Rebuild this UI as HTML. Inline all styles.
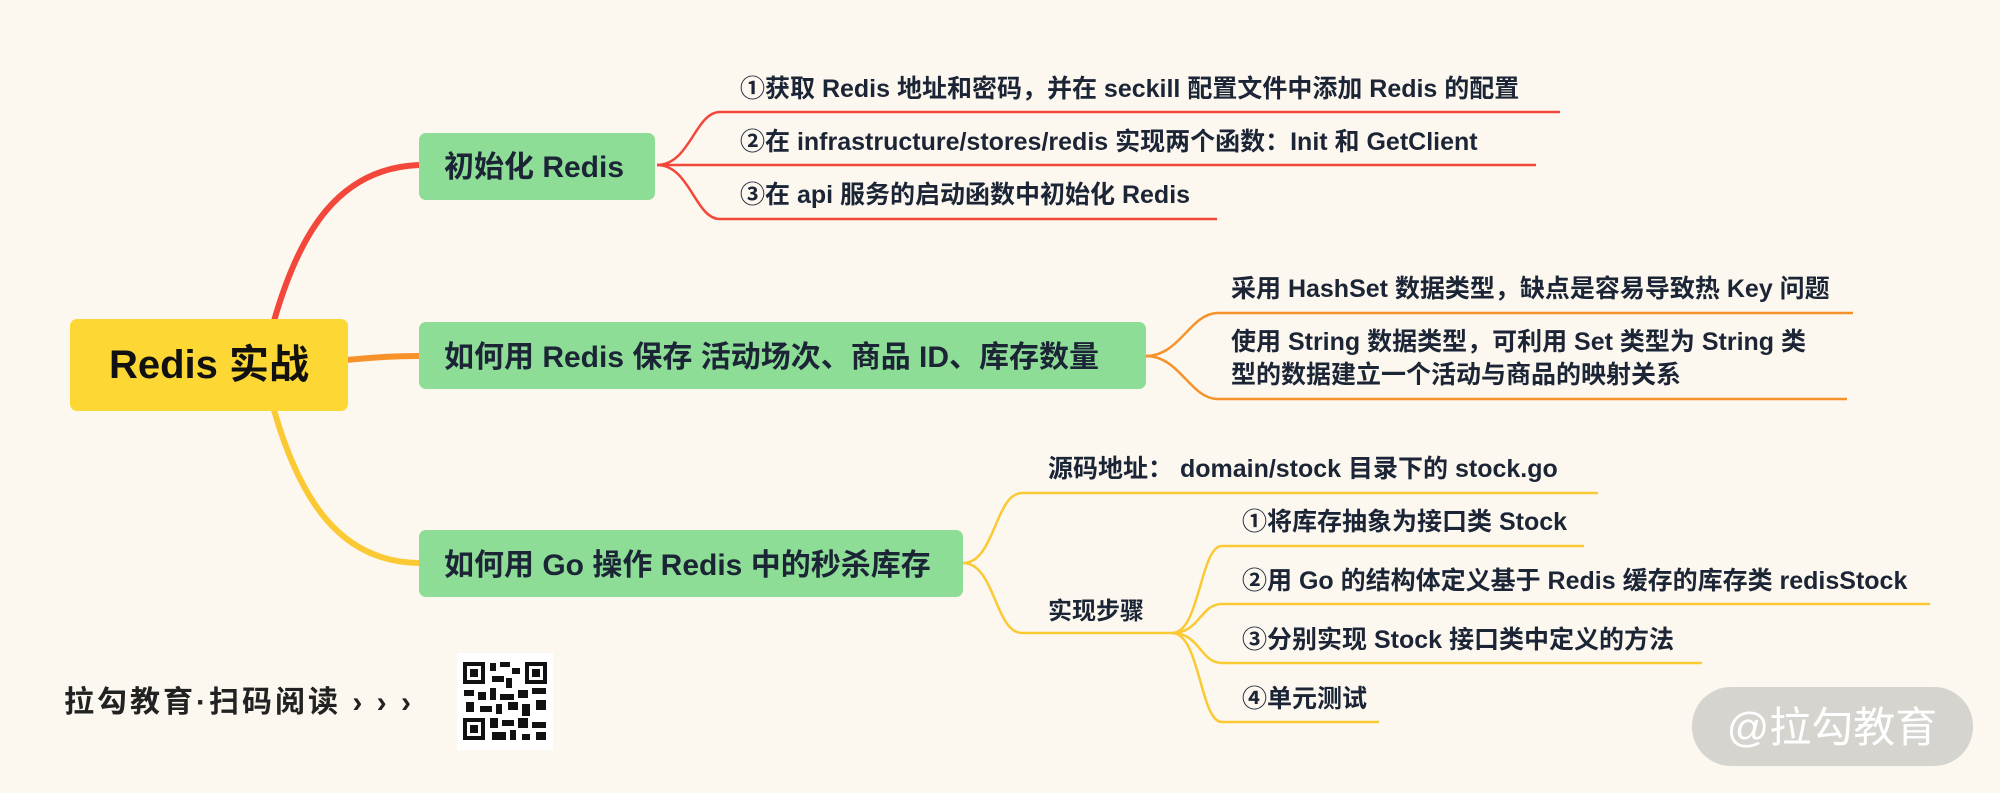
<!DOCTYPE html>
<html><head><meta charset="utf-8"><style>
html,body{margin:0;padding:0;background:#fcf8f0;}
svg{display:block}
text{font-family:"Liberation Sans","Noto Sans CJK SC",sans-serif;font-weight:bold;fill:#1c2536;}
</style></head><body>
<svg width="2000" height="793" viewBox="0 0 2000 793" xmlns="http://www.w3.org/2000/svg">
<rect width="2000" height="793" fill="#fcf8f0"/>
<path d="M274 321 C300 230 340 168 419 165" stroke="#f2473a" stroke-width="6" fill="none"/>
<path d="M346 360 C380 357 395 356 419 356" stroke="#f7922a" stroke-width="6" fill="none"/>
<path d="M274 410 C300 500 340 562 419 563" stroke="#fbc934" stroke-width="6" fill="none"/>
<rect x="70" y="319" width="278" height="92" rx="7" fill="#fdd835"/>
<text x="209" y="378" font-size="40" text-anchor="middle" style="fill:#111">Redis 实战</text>
<rect x="419" y="133" width="236" height="67" rx="7" fill="#8ddd97"/>
<text x="444" y="177" font-size="30">初始化 Redis</text>
<rect x="419" y="322" width="727" height="67" rx="7" fill="#8ddd97"/>
<text x="444" y="367" font-size="30">如何用 Redis 保存 活动场次、商品 ID、库存数量</text>
<rect x="419" y="530" width="544" height="67" rx="7" fill="#8ddd97"/>
<text x="444" y="575" font-size="30">如何用 Go 操作 Redis 中的秒杀库存</text>

<g stroke="#f2473a" stroke-width="2.5" fill="none">
<path d="M657 165 C690 165 695 112 720 112 L1560 112"/>
<path d="M657 165 L1536 165"/>
<path d="M657 165 C690 165 695 219 720 219 L1217 219"/>
</g>
<text x="740" y="97" font-size="25">①获取 Redis 地址和密码，并在 seckill 配置文件中添加 Redis 的配置</text>
<text x="740" y="150" font-size="25">②在 infrastructure/stores/redis 实现两个函数：Init 和 GetClient</text>
<text x="740" y="203" font-size="25">③在 api 服务的启动函数中初始化 Redis</text>

<g stroke="#f7922a" stroke-width="2.5" fill="none">
<path d="M1146 356 C1180 356 1190 313 1218 313 L1853 313"/>
<path d="M1146 356 C1180 356 1190 399 1218 399 L1847 399"/>
</g>
<text x="1231" y="297" font-size="25">采用 HashSet 数据类型，缺点是容易导致热 Key 问题</text>
<text x="1231" y="350" font-size="25">使用  String 数据类型，可利用 Set 类型为 String 类</text>
<text x="1231" y="383" font-size="25">型的数据建立一个活动与商品的映射关系</text>

<g stroke="#fbc934" stroke-width="2.5" fill="none">
<path d="M963 563 C995 563 995 493 1022 493 L1598 493"/>
<path d="M963 563 C995 563 995 633 1022 633 L1172 633"/>
<path d="M1172 633 C1200 633 1200 546 1222 546 L1584 546"/>
<path d="M1172 633 C1200 633 1200 604 1222 604 L1930 604"/>
<path d="M1172 633 C1200 633 1200 663 1222 663 L1702 663"/>
<path d="M1172 633 C1200 633 1200 722 1222 722 L1379 722"/>
</g>
<text x="1048" y="477" font-size="25">源码地址：  domain/stock 目录下的 stock.go</text>
<text x="1048" y="619" font-size="24">实现步骤</text>
<text x="1242" y="530" font-size="25">①将库存抽象为接口类 Stock</text>
<text x="1242" y="589" font-size="25">②用 Go 的结构体定义基于 Redis 缓存的库存类 redisStock</text>
<text x="1242" y="648" font-size="25">③分别实现 Stock 接口类中定义的方法</text>
<text x="1242" y="707" font-size="25">④单元测试</text>

<text x="64" y="712" font-size="30" style="fill:#222;letter-spacing:3px">拉勾教育·扫码阅读 › › ›</text>
<rect x="457" y="653" width="96" height="97" fill="#fff"/>
<g fill="#111">
<rect x="463" y="662" width="22" height="22"/><rect x="467" y="666" width="14" height="14" fill="#fff"/><rect x="470" y="669" width="8" height="8"/>
<rect x="525" y="662" width="22" height="22"/><rect x="529" y="666" width="14" height="14" fill="#fff"/><rect x="532" y="669" width="8" height="8"/>
<rect x="463" y="718" width="22" height="22"/><rect x="467" y="722" width="14" height="14" fill="#fff"/><rect x="470" y="725" width="8" height="8"/>
<rect x="490" y="663" width="6" height="8"/><rect x="500" y="662" width="10" height="5"/><rect x="512" y="668" width="8" height="6"/>
<rect x="492" y="676" width="12" height="6"/><rect x="506" y="678" width="6" height="10"/><rect x="464" y="690" width="10" height="6"/>
<rect x="478" y="692" width="8" height="8"/><rect x="490" y="688" width="6" height="12"/><rect x="500" y="694" width="14" height="6"/>
<rect x="518" y="690" width="10" height="8"/><rect x="532" y="688" width="14" height="6"/><rect x="466" y="702" width="8" height="10"/>
<rect x="480" y="706" width="12" height="6"/><rect x="496" y="704" width="6" height="10"/><rect x="508" y="702" width="10" height="8"/>
<rect x="522" y="704" width="8" height="12"/><rect x="536" y="700" width="10" height="10"/><rect x="490" y="718" width="8" height="10"/>
<rect x="502" y="720" width="12" height="6"/><rect x="518" y="718" width="10" height="10"/><rect x="532" y="722" width="14" height="6"/>
<rect x="492" y="732" width="14" height="8"/><rect x="510" y="730" width="6" height="10"/><rect x="522" y="734" width="8" height="6"/><rect x="536" y="732" width="10" height="8"/>
</g>
<rect x="1692" y="687" width="281" height="79" rx="39" fill="#d6d4cf"/>
<text x="1832" y="742" font-size="42" text-anchor="middle" style="fill:#fff;font-weight:normal">@拉勾教育</text>
</svg>
</body></html>
